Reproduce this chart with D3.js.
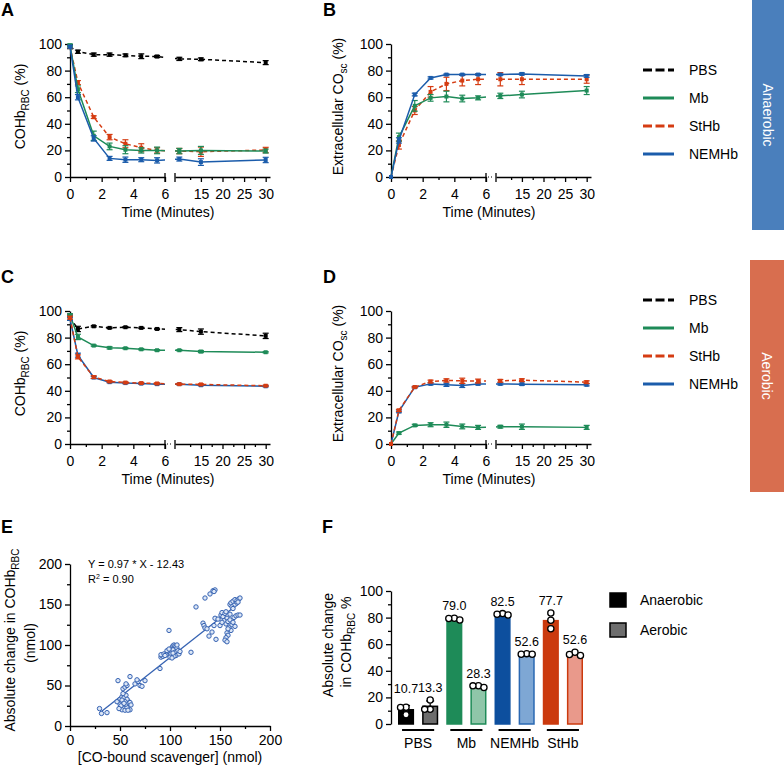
<!DOCTYPE html>
<html><head><meta charset="utf-8">
<script src="https://cdn.jsdelivr.net/npm/d3@7"></script>
<style>
body{margin:0;background:#fff}
svg{display:block}
text{font-family:"Liberation Sans",Arial,Helvetica,sans-serif;fill:#000}
</style>
</head><body>
<svg id="c" width="784" height="767"></svg>
<script>
// ---------------- DATA ----------------
const times = [0, 0.5, 1.5, 2.5, 3.5, 4.5, 5.5, 10, 15, 30];
const seriesNames = ["PBS", "Mb", "StHb", "NEMHb"];

// Panel A: anaerobic COHb_RBC (%)
const A_PBS      = [98, 94.2, 92, 92, 91.5, 90.8, 90.6, 88.8, 88.5, 86];
const A_PBS_sd   = [1.5, 1.2, 1.2, 1.2, 1, 1.8, 0.8, 1.2, 1, 1.5];
const A_Mb       = [99, 66, 31, 23, 20.5, 20, 20, 19.5, 20, 19.5];
const A_Mb_sd    = [1, 2.5, 3.5, 2.5, 3, 2, 2.5, 2, 3, 1.5];
const A_StHb     = [98, 71, 45, 30, 25, 22, 20, 19.5, 19, 20.3];
const A_StHb_sd  = [1, 1.5, 1, 2, 3, 3, 2, 2, 3.5, 2];
const A_NEMHb    = [98, 60, 29, 14, 13, 13, 12.5, 13.5, 11.2, 12.8];
const A_NEMHb_sd = [1, 2, 2, 1.5, 2, 1.5, 2, 1.5, 2.5, 2];

// Panel B: anaerobic extracellular CO_sc (%)
const B_Mb       = [0, 30, 53.5, 59.5, 60.5, 59, 59.5, 61, 62, 65];
const B_Mb_sd    = [0, 3, 4, 2.5, 4, 2.5, 1.5, 2, 2.5, 3];
const B_StHb     = [0, 24, 50, 64, 70, 72.5, 73.5, 73.5, 73.5, 73.5];
const B_StHb_sd  = [0, 3, 3, 4, 5, 4, 4, 5, 4, 3];
const B_NEMHb    = [0, 27.5, 62, 74.5, 77, 77, 77, 77, 77.5, 76];
const B_NEMHb_sd = [0, 2, 1, 0.8, 0.5, 0.5, 0.5, 0.5, 0.8, 1];

// Panel C: aerobic COHb_RBC (%)
const C_PBS      = [95, 86.5, 88.5, 87.3, 87.8, 87.3, 86.5, 86, 84.5, 81.3];
const C_PBS_sd   = [2, 2, 0.5, 0.5, 0.5, 0.5, 0.5, 1.5, 2, 2];
const C_Mb       = [97, 80.5, 74, 72.3, 72, 71.2, 70.5, 70.5, 69.5, 69];
const C_Mb_sd    = [1, 2, 0.5, 0.8, 0.5, 0.5, 0.5, 0.5, 0.8, 0.5];
const C_StHb     = [95, 65.5, 50.3, 47, 46.2, 45.8, 45.5, 45, 44.8, 43.8];
const C_StHb_sd  = [1, 1.5, 1, 0.5, 0.5, 0.5, 0.5, 0.5, 0.5, 0.5];
const C_NEMHb    = [94, 66.8, 50, 46.5, 45.8, 45.4, 45, 45, 44.2, 43.4];
const C_NEMHb_sd = [1, 1.5, 0.8, 0.5, 0.5, 0.5, 0.5, 0.5, 0.5, 0.5];

// Panel D: aerobic extracellular CO_sc (%)
const D_Mb       = [0, 8.2, 14, 14.5, 14.5, 13.2, 12.5, 13, 13, 12.5];
const D_Mb_sd    = [0, 0.8, 0.8, 1.5, 2, 1.8, 1.5, 1, 2, 1.5];
const D_StHb     = [0, 25.3, 42.8, 47, 47.8, 47.5, 47.3, 47.5, 48, 46.5];
const D_StHb_sd  = [0, 0.8, 0.5, 1, 1.2, 2, 1.5, 1, 1, 1];
const D_NEMHb    = [0, 24.5, 42.7, 45.2, 44.5, 44, 45.2, 45.2, 45, 44.5];
const D_NEMHb_sd = [0, 1, 0.5, 0.8, 1.2, 1.5, 0.8, 0.8, 0.8, 0.8];

const seg1Ticks = [0, 2, 4, 6];
const seg2Ticks = [15, 20, 25, 30];
const pctTicks = [0, 20, 40, 60, 80, 100];

// Panel E: scatter
const scatterX = [29.5,31.5,37,48,49,50,51,52,50,53,54,52,55,57,56,58,54,56,53,57,59,60,58,51,55,60,61,53,55,57,56,60,65,68,70,67,72,75,49,47,52,54,
  90,91,92,93,91,94,99,98,99,100,101,102,103,104,105,106,107,103,101,100,105,108,106,104,102,109,110,97,96,103,107,99,121,95,
  126,135,140,143,145,144,133,134,135,137,139,142,144,146,145,151,152,153,155,156,157,154,156,158,160,159,161,157,158,156,155,157,162,163,164,166,168,170,160,161,163,165,167,169,170,166,164,162,163,168,150,152,148,160,165,158];
const scatterY = [21.5,15.5,16.5,56,31,33,29,36,27,24,22,20,19.5,23,27,31,35,38,40,33,28,20,19.5,25,30,29,26,46,48,50,52,61,52,55,50,57,49,56,21.5,30,32,28,
  71,85,87,86,88,89,118,90,92,88,93,97,99,100,99,98,96,94,89,85,91,93,87,86,84,89,92,93,88,90,100,95,91,87,
  147,158,163,167,168,166,127,124,121,120,111,116,124,107,133,137,140,135,139,141,133,130,126,129,131,122,118,115,112,109,106,104,125,128,134,136,137,137,150,152,154,156,155,157,158,151,149,147,145,153,124,128,132,138,123,120];
const fitSlope = 0.97, fitIntercept = -12.43, fitR2 = 0.90;
const eTicks = [0, 50, 100, 150, 200];

// Panel F: bars
const groups = ["PBS", "Mb", "NEMHb", "StHb"];
const conditions = ["Anaerobic", "Aerobic"];
const barMeans = [10.7, 13.3, 79.0, 28.3, 82.5, 52.6, 77.7, 52.6];
const barPoints = [[12.5,12.6,7],[11,11,18],[78.2,79.5,79.3],[27.4,28.8,28.7],[82,83,82.5],[52.4,52.9,52.5],[83.5,78,71.6],[51.5,54,52.3]];

// ---------------- STYLE ----------------
const COL = {PBS:"#000000", Mb:"#1e8b58", StHb:"#d53c12", NEMHb:"#1b5cab"};
const DASH = {PBS:"4,3", Mb:null, StHb:"4,3", NEMHb:null};
const FBAR = {
  PBS:  {an:"#000000", ae:"#6d6d6d", st:"#000000"},
  Mb:   {an:"#1e8b58", ae:"#8fc6a9", st:"#1e8b58"},
  NEMHb:{an:"#0d4f9e", ae:"#7ea7d4", st:"#2a68b2"},
  StHb: {an:"#cb3a0e", ae:"#e9998b", st:"#cb3a0e"}
};
const FF = "Liberation Sans, Arial, Helvetica, sans-serif";
const fmtInt = d3.format("d");

const svg = d3.select("#c");
const defs = svg.append("defs");

function styleAxis(sel, fs) {
  sel.attr("font-size", fs || 14).attr("font-family", FF);
  sel.selectAll("path.domain").attr("stroke", "#000").attr("stroke-width", 1.3);
  sel.selectAll(".tick line").attr("stroke", "#000").attr("stroke-width", 1.3);
  sel.selectAll(".tick text").attr("fill", "#000");
  return sel;
}
function minorAxis(g, axisGen) {
  const m = g.append("g").call(axisGen.tickFormat(""));
  m.select("path.domain").remove();
  m.selectAll(".tick line").attr("stroke", "#000").attr("stroke-width", 1.3);
}

function panelLabel(t, x, y) {
  svg.append("text").attr("x", x).attr("y", y).attr("font-size", 18).attr("font-weight", "bold").text(t);
}

function rotTitle(cx, cy, parts, fs) {
  const t = svg.append("text").attr("transform", `translate(${cx},${cy}) rotate(-90)`)
    .attr("text-anchor", "middle").attr("dy", "0.35em").attr("font-size", fs || 14);
  parts.forEach(p => {
    const ts = t.append("tspan").text(p.t);
    if (p.sub) ts.attr("font-size", 10).attr("dy", 4);
    if (p.after) ts.attr("dy", -4);
  });
  return t;
}

function timePanel(cfg) {
  const {x0, yTop, yBot, series, dotted, clipId, ytitle} = cfg;
  const s1 = d3.scaleLinear().domain([0, 6]).range([x0, x0 + 95]);
  const s2 = d3.scaleLinear().domain([9, 31]).range([x0 + 105, x0 + 200]);
  const xf = t => (t <= 6 ? s1(t) : s2(t));
  const y = d3.scaleLinear().domain([0, 100]).range([yBot, yTop]);
  const g = svg.append("g");

  const ya = g.append("g").attr("transform", `translate(${x0},0)`);
  ya.call(d3.axisLeft(y).tickValues(pctTicks).tickFormat(fmtInt).tickSize(5).tickSizeOuter(0).tickPadding(3));
  styleAxis(ya);
  minorAxis(ya, d3.axisLeft(y).tickValues([10, 30, 50, 70, 90]).tickSize(3));

  const xa1 = g.append("g").attr("transform", `translate(0,${yBot})`);
  xa1.call(d3.axisBottom(s1).tickValues(seg1Ticks).tickFormat(fmtInt).tickSize(5).tickSizeOuter(0).tickPadding(7));
  styleAxis(xa1);
  minorAxis(xa1, d3.axisBottom(s1).tickValues([1, 3, 5]).tickSize(3));
  const xa2 = g.append("g").attr("transform", `translate(0,${yBot})`);
  xa2.call(d3.axisBottom(s2).tickValues(seg2Ticks).tickFormat(fmtInt).tickSize(5).tickSizeOuter(0).tickPadding(7));
  styleAxis(xa2);
  minorAxis(xa2, d3.axisBottom(s2).tickValues([12.5, 17.5, 22.5, 27.5]).tickSize(3));
  [s1(6), s2(9)].forEach(x => {
    g.append("line").attr("x1", x).attr("x2", x).attr("y1", yBot - 4).attr("y2", yBot + 5)
      .attr("stroke", "#000").attr("stroke-width", 1.3);
  });
  if (dotted) {
    g.append("line").attr("x1", s1(6) + 2).attr("x2", s2(9) - 2).attr("y1", yBot).attr("y2", yBot)
      .attr("stroke", "#000").attr("stroke-width", 1.2).attr("stroke-dasharray", "1,2");
  }
  g.append("text").attr("x", (s1(0) + s2(31)) / 2 - 2).attr("y", yBot + 40).attr("text-anchor", "middle")
    .attr("font-size", 14).text("Time (Minutes)");
  rotTitle(x0 - (cfg.titleOff), (yTop + yBot) / 2 - 4, ytitle);

  const cp = defs.append("clipPath").attr("id", clipId);
  cp.append("rect").attr("x", x0 - 5).attr("y", yTop - 30).attr("width", s1(6) - x0 + 5).attr("height", yBot - yTop + 40);
  cp.append("rect").attr("x", s2(9)).attr("y", yTop - 30).attr("width", 110).attr("height", yBot - yTop + 40);

  const line = d3.line();
  series.forEach(s => {
    const pts = times.map((t, i) => [xf(t), y(s.v[i])]);
    g.append("path").attr("d", line(pts)).attr("fill", "none").attr("stroke", COL[s.name])
      .attr("stroke-width", 1.5).attr("stroke-dasharray", DASH[s.name]).attr("clip-path", `url(#${clipId})`);
    const eg = g.append("g").attr("stroke", COL[s.name]).attr("stroke-width", 1.2);
    times.forEach((t, i) => {
      const e = s.e[i];
      if (e > 0) {
        const x = xf(t), yl = y(s.v[i] - e), yh = y(s.v[i] + e);
        eg.append("line").attr("x1", x).attr("x2", x).attr("y1", yl).attr("y2", yh);
        eg.append("line").attr("x1", x - 3).attr("x2", x + 3).attr("y1", yl).attr("y2", yl);
        eg.append("line").attr("x1", x - 3).attr("x2", x + 3).attr("y1", yh).attr("y2", yh);
      }
    });
    g.append("g").selectAll("rect").data(times).join("rect")
      .attr("x", t => xf(t) - 2).attr("y", (t, i) => y(s.v[i]) - 2)
      .attr("width", 4).attr("height", 4).attr("fill", COL[s.name]);
  });
}

// ---------------- PANELS A-D ----------------
timePanel({x0: 70, yTop: 44, yBot: 177, clipId: "clipA", dotted: false, titleOff: 50,
  ytitle: [{t: "COHb"}, {t: "RBC", sub: true}, {t: " (%)", after: true}],
  series: [{name: "PBS", v: A_PBS, e: A_PBS_sd}, {name: "StHb", v: A_StHb, e: A_StHb_sd},
           {name: "Mb", v: A_Mb, e: A_Mb_sd}, {name: "NEMHb", v: A_NEMHb, e: A_NEMHb_sd}]});
timePanel({x0: 391, yTop: 44, yBot: 177, clipId: "clipB", dotted: true, titleOff: 53,
  ytitle: [{t: "Extracellular CO"}, {t: "sc", sub: true}, {t: " (%)", after: true}],
  series: [{name: "StHb", v: B_StHb, e: B_StHb_sd}, {name: "Mb", v: B_Mb, e: B_Mb_sd},
           {name: "NEMHb", v: B_NEMHb, e: B_NEMHb_sd}]});
timePanel({x0: 70, yTop: 311, yBot: 444, clipId: "clipC", dotted: true, titleOff: 50,
  ytitle: [{t: "COHb"}, {t: "RBC", sub: true}, {t: " (%)", after: true}],
  series: [{name: "PBS", v: C_PBS, e: C_PBS_sd}, {name: "Mb", v: C_Mb, e: C_Mb_sd},
           {name: "NEMHb", v: C_NEMHb, e: C_NEMHb_sd}, {name: "StHb", v: C_StHb, e: C_StHb_sd}]});
timePanel({x0: 391, yTop: 311, yBot: 444, clipId: "clipD", dotted: true, titleOff: 53,
  ytitle: [{t: "Extracellular CO"}, {t: "sc", sub: true}, {t: " (%)", after: true}],
  series: [{name: "Mb", v: D_Mb, e: D_Mb_sd}, {name: "NEMHb", v: D_NEMHb, e: D_NEMHb_sd},
           {name: "StHb", v: D_StHb, e: D_StHb_sd}]});

panelLabel("A", 1, 16);
panelLabel("B", 323, 16);
panelLabel("C", 1, 283);
panelLabel("D", 323, 283);
panelLabel("E", 1, 533);
panelLabel("F", 322, 533);

function lineLegend(y0) {
  seriesNames.forEach((n, i) => {
    const yy = y0 + i * 28;
    svg.append("line").attr("x1", 643).attr("x2", 674).attr("y1", yy).attr("y2", yy)
      .attr("stroke", COL[n]).attr("stroke-width", 3)
      .attr("stroke-dasharray", DASH[n] ? "9,3.5" : null);
    svg.append("text").attr("x", 689).attr("y", yy).attr("dy", "0.35em").attr("font-size", 14).text(n);
  });
}
lineLegend(70);
lineLegend(300);

function sideBar(x, y0, y1, color, label) {
  svg.append("rect").attr("x", x).attr("y", y0).attr("width", 784 - x).attr("height", y1 - y0).attr("fill", color);
  svg.append("text").attr("transform", `translate(${(x + 784) / 2},${(y0 + y1) / 2}) rotate(90)`)
    .attr("text-anchor", "middle").attr("dy", "0.35em").attr("font-size", 14)
    .style("fill", "#fff").text(label);
}
sideBar(752, 0, 230, "#4a7fbc", "Anaerobic");
sideBar(750, 260, 492, "#d86e4f", "Aerobic");

// ---------------- PANEL E ----------------
{
  const ex = d3.scaleLinear().domain([0, 200]).range([70, 270]);
  const ey = d3.scaleLinear().domain([0, 200]).range([726, 564]);
  const g = svg.append("g");
  const ya = g.append("g").attr("transform", "translate(70,0)");
  ya.call(d3.axisLeft(ey).tickValues(eTicks).tickFormat(fmtInt).tickSize(5).tickSizeOuter(0).tickPadding(3));
  styleAxis(ya);
  minorAxis(ya, d3.axisLeft(ey).tickValues([25, 75, 125, 175]).tickSize(3));
  const xa = g.append("g").attr("transform", "translate(0,726)");
  xa.call(d3.axisBottom(ex).tickValues(eTicks).tickFormat(fmtInt).tickSize(5).tickSizeOuter(0).tickPadding(4));
  styleAxis(xa);
  minorAxis(xa, d3.axisBottom(ex).tickValues([25, 75, 125, 175]).tickSize(3));
  g.append("text").attr("x", 170).attr("y", 762).attr("text-anchor", "middle").attr("font-size", 14)
    .text("[CO-bound scavenger] (nmol)");
  rotTitle(10, 640, [{t: "Absolute change in COHb"}, {t: "RBC", sub: true}]);
  rotTitle(30, 643, [{t: "(nmol)"}]);

  const x0 = d3.min(scatterX), x1 = d3.max(scatterX);
  g.append("line").attr("x1", ex(x0)).attr("x2", ex(x1))
    .attr("y1", ey(fitSlope * x0 + fitIntercept)).attr("y2", ey(fitSlope * x1 + fitIntercept))
    .attr("stroke", "#3562b2").attr("stroke-width", 1.3);
  g.append("g").selectAll("circle").data(scatterX).join("circle")
    .attr("cx", d => ex(d)).attr("cy", (d, i) => ey(scatterY[i])).attr("r", 2.2)
    .attr("fill", "#dde7f6").attr("stroke", "#3562b2").attr("stroke-width", 1);
  g.append("text").attr("x", 88).attr("y", 568).attr("font-size", 11)
    .text(`Y = ${fitSlope.toFixed(2)} * X - ${Math.abs(fitIntercept).toFixed(2)}`);
  const r = g.append("text").attr("x", 88).attr("y", 583).attr("font-size", 11);
  r.append("tspan").text("R");
  r.append("tspan").attr("font-size", 7).attr("dy", -4).text("2");
  r.append("tspan").attr("dy", 4).text(` = ${fitR2.toFixed(2)}`);
}

// ---------------- PANEL F ----------------
{
  const keys = [];
  groups.forEach(gn => conditions.forEach(c => keys.push(gn + "|" + c)));
  const fx = d3.scaleBand().domain(keys).range([398, 583]).paddingInner(1 / 3).paddingOuter(0);
  const fy = d3.scaleLinear().domain([0, 100]).range([724, 591]);
  const bw = fx.bandwidth();
  const g = svg.append("g");
  const ya = g.append("g").attr("transform", "translate(391,0)");
  ya.call(d3.axisLeft(fy).tickValues(pctTicks).tickFormat(fmtInt).tickSize(5).tickSizeOuter(0).tickPadding(3));
  styleAxis(ya);
  minorAxis(ya, d3.axisLeft(fy).tickValues([10, 30, 50, 70, 90]).tickSize(3));

  keys.forEach((k, i) => {
    const [gn, c] = k.split("|");
    const an = c === "Anaerobic";
    const col = FBAR[gn];
    const x = fx(k);
    g.append("rect").attr("x", x + 0.75).attr("y", fy(barMeans[i])).attr("width", bw - 1.5)
      .attr("height", fy(0) - fy(barMeans[i]))
      .attr("fill", an ? col.an : col.ae).attr("stroke", an ? col.an : col.st).attr("stroke-width", 1.5);
    const pts = barPoints[i];
    const mean = d3.mean(pts), sd = d3.deviation(pts);
    const cx = x + bw / 2;
    if (gn === "PBS") {
      g.append("line").attr("x1", cx).attr("x2", cx).attr("y1", fy(barMeans[i])).attr("y2", fy(mean + sd))
        .attr("stroke", an ? "#fff" : "#000").attr("stroke-width", 1.3);
      g.append("line").attr("x1", cx - 4).attr("x2", cx + 4).attr("y1", fy(mean + sd)).attr("y2", fy(mean + sd))
        .attr("stroke", "#000").attr("stroke-width", 1.3);
    }
    const placed = [];
    const order = pts.map((v, j) => j).sort((a, b) => pts[b] - pts[a]);
    const offs = [0, -5.5, 5.5, -11, 11];
    order.forEach(j => {
      const py = fy(pts[j]);
      let ox = 0;
      for (const o of offs) {
        if (placed.every(p => Math.hypot(p[0] - o, p[1] - py) >= 5.5)) { ox = o; break; }
      }
      placed.push([ox, py]);
      g.append("circle").attr("cx", cx + ox).attr("cy", py).attr("r", 3.1)
        .attr("fill", "#fff").attr("stroke", "#000").attr("stroke-width", 1.3);
    });
    const top = Math.max(d3.max(pts), gn === "PBS" ? mean + sd : 0);
    g.append("text").attr("x", cx).attr("y", Math.min(fy(top) - 8, 693)).attr("text-anchor", "middle")
      .attr("font-size", 12.5).text(barMeans[i].toFixed(1));
  });
  groups.forEach(gn => {
    const xa = fx(gn + "|Anaerobic") + bw / 2 - 4;
    const xb = fx(gn + "|Aerobic") + bw / 2 + 4;
    g.append("line").attr("x1", xa).attr("x2", xb).attr("y1", 730).attr("y2", 730)
      .attr("stroke", "#000").attr("stroke-width", 1.8);
    g.append("text").attr("x", (xa + xb) / 2).attr("y", 748).attr("text-anchor", "middle")
      .attr("font-size", 14).text(gn);
  });
  rotTitle(328, 645, [{t: "Absolute change"}]);
  rotTitle(346, 642, [{t: "in COHb"}, {t: "RBC", sub: true}, {t: " %", after: true}]);
  conditions.forEach((c, i) => {
    const yy = 593 + i * 30;
    svg.append("rect").attr("x", 610).attr("y", yy).attr("width", 16).attr("height", 14)
      .attr("fill", i === 0 ? "#000" : "#6d6d6d").attr("stroke", "#000").attr("stroke-width", 1.5);
    svg.append("text").attr("x", 640).attr("y", yy + 7).attr("dy", "0.35em").attr("font-size", 14).text(c);
  });
}
</script>
</body></html>
